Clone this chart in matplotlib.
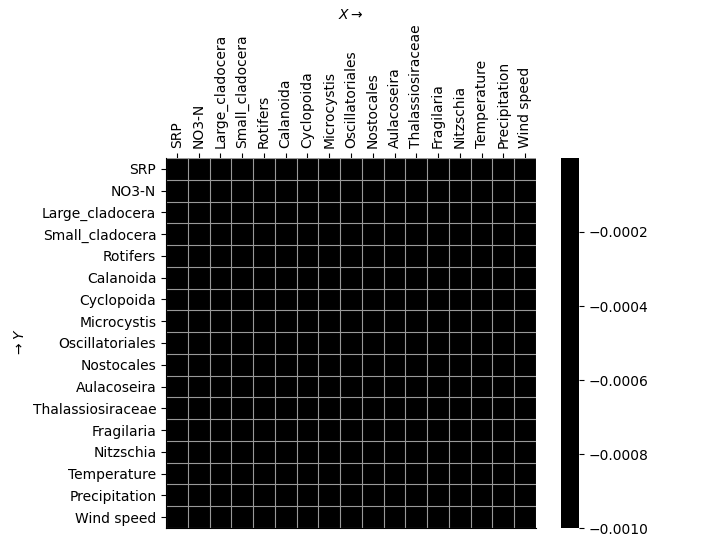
import numpy as np
import matplotlib
matplotlib.use('Agg')
import matplotlib.pyplot as plt
from matplotlib.colors import ListedColormap

# variable names (same on both axes)
names = ['SRP', 'NO3-N', 'Large_cladocera', 'Small_cladocera', 'Rotifers',
         'Calanoida', 'Cyclopoida', 'Microcystis', 'Oscillatoriales',
         'Nostocales', 'Aulacoseira', 'Thalassiosiraceae', 'Fragilaria',
         'Nitzschia', 'Temperature', 'Precipitation', 'Wind speed']

# matrix values (all zero in the reference)
values = [[0.0] * len(names) for _ in names]

cbar_ticks = [-0.0010, -0.0008, -0.0006, -0.0004, -0.0002]

# plot
fig = plt.figure(figsize=(7.11, 5.54), dpi=100)
ax = fig.add_axes([166/711, 1 - 528/554, 370/711, 370/554])
cax = fig.add_axes([561/711, 1 - 528/554, 18/711, 370/554])

n = len(names)
mat = np.array(values)
im = ax.imshow(mat, cmap=ListedColormap(['black']), vmin=-0.001, vmax=0,
               aspect='auto', interpolation='nearest')

ax.set_xticks(range(n))
ax.set_xticklabels(names, rotation=90)
ax.set_yticks(range(n))
ax.set_yticklabels(names)
ax.xaxis.tick_top()
ax.xaxis.set_label_position('top')
ax.set_xlabel(r'$X \rightarrow$')
ax.set_ylabel(r'$\rightarrow Y$')

# cell borders
ax.set_xticks(np.arange(-0.5, n, 1), minor=True)
ax.set_yticks(np.arange(-0.5, n, 1), minor=True)
ax.grid(which='minor', color='#999999', linewidth=0.8)
ax.tick_params(which='minor', length=0)
ax.spines['top'].set_visible(False)
ax.spines['right'].set_visible(False)

cb = fig.colorbar(im, cax=cax)
cb.set_ticks(cbar_ticks)
cb.outline.set_visible(False)

plt.savefig('out.png', dpi=100)
